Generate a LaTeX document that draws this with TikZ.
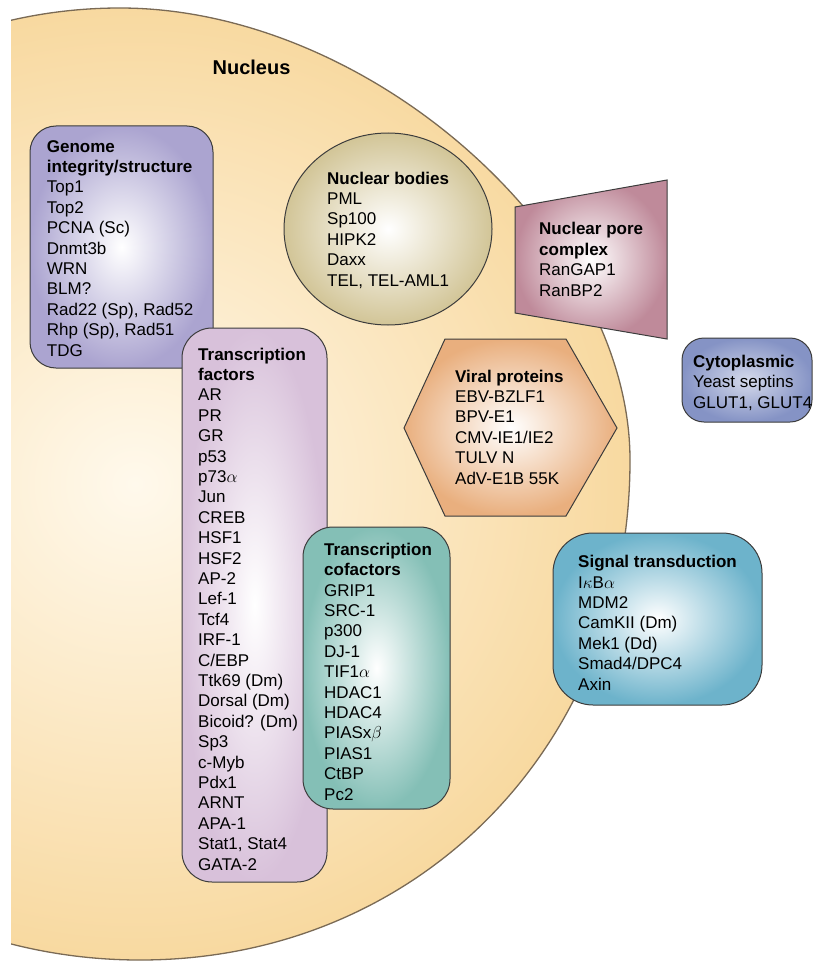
\documentclass[tikz,border=0pt]{standalone}
\usepackage{fontspec}
\setmainfont{Liberation Sans}
\usetikzlibrary{shapes.geometric}
\definecolor{nucout}{HTML}{F8D9A0}
\definecolor{nucin}{HTML}{FFF9EC}
\definecolor{nucedge}{HTML}{7A6A55}
\definecolor{edgecol}{HTML}{3C3C3C}
\definecolor{genomecol}{HTML}{ABA4D0}
\definecolor{bodycol}{HTML}{D2C597}
\definecolor{porecol}{HTML}{BF8A9A}
\definecolor{tfcol}{HTML}{D8C1DA}
\definecolor{viralcol}{HTML}{E9AF7E}
\definecolor{cytocol}{HTML}{8593C5}
\definecolor{cofcol}{HTML}{84BFB6}
\definecolor{sigcol}{HTML}{6DB3CB}
\begin{document}
\begin{tikzpicture}[x=1pt,y=-1pt,
  txt/.style={anchor=base west, align=left, inner sep=0pt, font=\fontsize{17}{20.4}\selectfont},
  boxline/.style={draw=edgecol, line width=1pt},
  panel/.style={boxline, inner sep=0pt, shape=rectangle}]
\useasboundingbox (0,0) rectangle (813,963);
% nucleus
\begin{scope}
\clip (11,0) rectangle (813,963);
\shade[inner color=nucin, outer color=nucout] (120,8) .. controls (370,8) and (630,239) .. (630,460) .. controls (630,745) and (419,960) .. (140,960) .. controls (-136,960) and (-360,746) .. (-360,482) .. controls (-360,220) and (-145,8) .. (120,8) -- cycle;
\draw[nucedge, line width=1.3pt] (120,8) .. controls (370,8) and (630,239) .. (630,460) .. controls (630,745) and (419,960) .. (140,960) .. controls (-136,960) and (-360,746) .. (-360,482) .. controls (-360,220) and (-145,8) .. (120,8) -- cycle;
\end{scope}
\node[font=\fontsize{20}{24}\selectfont\bfseries, inner sep=0pt] (nucleus) at (251.5,67) {Nucleus};
% genome box
\node[panel, rounded corners=26pt, minimum width=183pt, minimum height=242pt,
  inner color=white, outer color=genomecol] (genome) at (121.5,247) {};
\node[txt] (genometxt) at (46.7,356) {\bfseries Genome\\\bfseries integrity/structure\\Top1\\Top2\\PCNA (Sc)\\Dnmt3b\\WRN\\BLM?\\Rad22 (Sp), Rad52\\Rhp (Sp), Rad51\\TDG};
% transcription factors
\node[panel, rounded corners=30pt, minimum width=145pt, minimum height=554pt,
  inner color=white, outer color=tfcol] (tf) at (254.5,605) {};
\node[txt] (tftxt) at (198,870) {\bfseries Transcription\\\bfseries factors\\AR\\PR\\GR\\p53\\p73$\alpha$\\Jun\\CREB\\HSF1\\HSF2\\AP-2\\Lef-1\\Tcf4\\IRF-1\\C/EBP\\Ttk69 (Dm)\\Dorsal (Dm)\\Bicoid? (Dm)\\Sp3\\c-Myb\\Pdx1\\ARNT\\APA-1\\Stat1, Stat4\\GATA-2};
% transcription cofactors
\node[panel, rounded corners=30pt, minimum width=147pt, minimum height=282pt,
  inner color=white, outer color=cofcol] (cof) at (376.5,668) {};
\node[txt] (coftxt) at (324,800) {\bfseries Transcription\\\bfseries cofactors\\GRIP1\\SRC-1\\p300\\DJ-1\\TIF1$\alpha$\\HDAC1\\HDAC4\\PIASx$\beta$\\PIAS1\\CtBP\\Pc2};
% nuclear bodies
\node[panel, shape=ellipse, minimum width=208pt, minimum height=192pt,
  inner color=white, outer color=bodycol] (bodies) at (388,229) {};
\node[txt] (bodiestxt) at (327,286) {\bfseries Nuclear bodies\\PML\\Sp100\\HIPK2\\Daxx\\TEL, TEL-AML1};
% nuclear pore complex
\shadedraw[boxline, inner color=white, outer color=porecol] (515,207) -- (667,180) -- (667,339) -- (515,313) -- cycle;
\node[txt] (poretxt) at (539,296) {\bfseries Nuclear pore\\\bfseries complex\\RanGAP1\\RanBP2};
% viral proteins
\shadedraw[boxline, inner color=white, outer color=viralcol] (445,339) -- (566,339) -- (617,428) -- (566,516) -- (445,516) -- (404,428) -- cycle;
\node[txt] (viraltxt) at (455,484) {\bfseries Viral proteins\\EBV-BZLF1\\BPV-E1\\CMV-IE1/IE2\\TULV N\\AdV-E1B 55K};
% cytoplasmic
\node[panel, rounded corners=22pt, minimum width=130pt, minimum height=84pt,
  inner color=cytocol!35!white, outer color=cytocol] (cyto) at (747,380) {};
\node[txt] (cytotxt) at (693,408) {\bfseries Cytoplasmic\\Yeast septins\\GLUT1, GLUT4};
% signal transduction
\node[panel, rounded corners=40pt, minimum width=209pt, minimum height=172pt,
  inner color=white, outer color=sigcol] (signal) at (657.5,619) {};
\node[txt] (signaltxt) at (578,690) {\bfseries Signal transduction\\I$\kappa$B$\alpha$\\MDM2\\CamKII (Dm)\\Mek1 (Dd)\\Smad4/DPC4\\Axin};
\end{tikzpicture}
\end{document}
